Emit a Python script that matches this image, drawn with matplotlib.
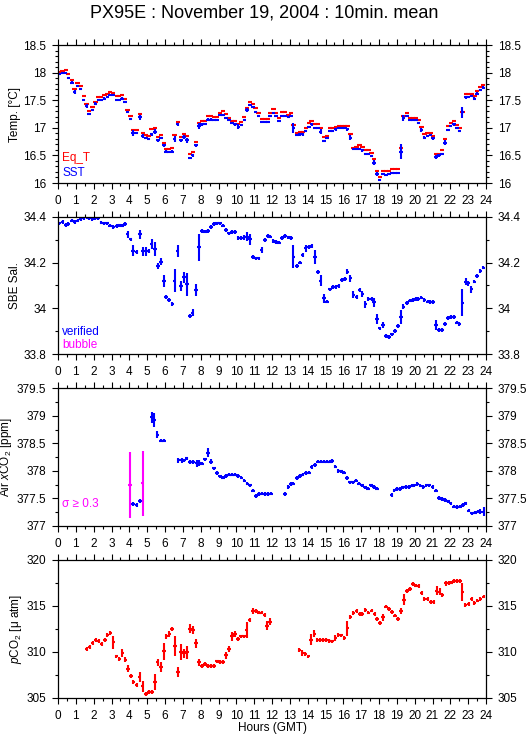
import numpy as np
import matplotlib
matplotlib.use('Agg')
import matplotlib.pyplot as plt
from matplotlib.ticker import MultipleLocator, FuncFormatter

plt.rcParams['font.family'] = ['Liberation Sans', 'DejaVu Sans']
plt.rcParams['mathtext.fontset'] = 'custom'
plt.rcParams['mathtext.rm'] = 'Liberation Sans'
plt.rcParams['mathtext.it'] = 'Liberation Sans:italic'

# 10 min means, hours GMT (panels 1 and 2)
hours = [0.07, 0.26, 0.43, 0.58, 0.77, 0.93, 1.1, 1.27, 1.44, 1.6,
         1.74, 1.93, 2.1, 2.26, 2.43, 2.6, 2.77, 2.93, 3.1, 3.29,
         3.44, 3.6, 3.76, 3.9, 4.07, 4.22, 4.41, 4.6, 4.75, 4.92,
         5.08, 5.25, 5.44, 5.6, 5.76, 5.93, 6.07, 6.24, 6.41, 6.54,
         6.71, 6.9, 7.08, 7.23, 7.4, 7.55, 7.74, 7.91, 8.07, 8.24,
         8.41, 8.57, 8.75, 8.9, 9.08, 9.25, 9.42, 9.59, 9.76, 9.93,
         10.11, 10.28, 10.45, 10.6, 10.77, 10.93, 11.08, 11.25, 11.42, 11.6, 11.76,
         11.89, 12.08, 12.23, 12.4, 12.55, 12.73, 12.92, 13.07, 13.2,
         13.39, 13.57, 13.72, 13.89, 14.08, 14.22, 14.41, 14.58, 14.73, 14.9,
         15.07, 15.24, 15.4, 15.57, 15.74, 15.91, 16.08, 16.23, 16.4, 16.57,
         16.74, 16.91, 17.07, 17.24, 17.41, 17.58, 17.73, 17.88, 18.04, 18.21,
         18.38, 18.55, 18.72, 18.9, 19.07, 19.22, 19.37, 19.56, 19.73, 19.9,
         20.06, 20.21, 20.38, 20.55, 20.72, 20.88, 21.03, 21.2, 21.37, 21.54,
         21.69, 21.86, 22.02, 22.19, 22.36, 22.51, 22.68, 22.86, 23.01, 23.18,
         23.35, 23.51, 23.68, 23.85]

sst = [17.97, 17.99, 17.99, 17.9, 17.82, 17.65, 17.76, 17.71, 17.51, 17.39,
       17.25, 17.32, 17.44, 17.5, 17.5, 17.53, 17.56, 17.6, 17.59, 17.51,
       17.51, 17.53, 17.47, 17.28, 17.16, 16.91, 16.91, 17.19, 16.85, 16.82,
       16.79, 16.88, 16.93, 16.77, 16.81, 16.68, 16.57, 16.56, 16.57, 16.8,
       17.06, 16.77, 16.83, 16.77, 16.46, 16.5, 16.68, 17.03, 17.06, 17.07,
       17.15, 17.15, 17.14, 17.14, 17.23, 17.23, 17.18, 17.14, 17.08, 17.06,
       17.02, 17.05, 17.14, 17.32, 17.41, 17.38, 17.29, 17.21, 17.11, 17.11, 17.11,
       17.21, 17.27, 17.21, 17.12, 17.22, 17.22, 17.19, 17.21, 17.0,
       16.87, 16.88, 16.88, 16.94, 17.02, 17.06, 17.0, 17.0, 16.93, 16.76,
       16.82, 16.94, 16.94, 16.97, 16.99, 16.99, 16.99, 16.97, 16.82, 16.61,
       16.62, 16.62, 16.59, 16.52, 16.52, 16.49, 16.37, 16.16, 16.05, 16.17,
       16.15, 16.16, 16.18, 16.18, 16.18, 16.57, 17.18, 17.21, 17.14, 17.14,
       17.14, 17.09, 16.96, 16.82, 16.85, 16.87, 16.81, 16.47, 16.5, 16.52,
       16.73, 16.96, 17.03, 17.06, 16.99, 16.94, 17.28, 17.55, 17.56, 17.57,
       17.53, 17.62, 17.68, 17.73]

sst_err = [.02, .02, .02, .02, .02, .04, .02, .02, .02, .035,
           .02, .02, .02, .02, .02, .02, .02, .02, .02, .02,
           .02, .02, .02, .02, .02, .05, .02, .04, .04, .02,
           .02, .02, .04, .02, .02, .02, .02, .02, .02, .05,
           .03, .02, .04, .05, .02, .02, .02, .06, .02, .02,
           .02, .02, .02, .02, .02, .02, .02, .02, .02, .02,
           .04, .02, .02, .04, .02, .02, .02, .02, .02, .02, .02,
           .02, .02, .02, .02, .02, .02, .02, .02, .09,
           .02, .02, .02, .02, .02, .02, .02, .02, .04, .02,
           .02, .02, .02, .02, .02, .02, .02, .02, .05, .02,
           .02, .02, .02, .02, .02, .02, .04, .04, .02, .02,
           .02, .02, .02, .02, .02, .13, .05, .02, .02, .02,
           .02, .02, .04, .03, .02, .02, .03, .04, .02, .02,
           .04, .02, .02, .02, .02, .02, .1, .02, .02, .02,
           .02, .02, .02, .02]

eq_t = [18.01, 18.03, 18.05, 17.97, 17.87, 17.71, 17.81, 17.75, 17.57, 17.43,
        17.3, 17.37, 17.47, 17.55, 17.56, 17.6, 17.62, 17.65, 17.63, 17.58,
        17.58, 17.59, 17.52, 17.33, 17.21, 16.96, 16.96, 17.25, 16.9, 16.87,
        16.85, 16.97, 16.99, 16.83, 16.87, 16.72, 16.61, 16.61, 16.63, 16.87,
        17.11, 16.84, 16.89, 16.85, 16.52, 16.56, 16.74, 17.09, 17.12, 17.12,
        17.21, 17.21, 17.2, 17.2, 17.27, 17.3, 17.25, 17.17, 17.12, 17.12,
        17.06, 17.1, 17.2, 17.36, 17.46, 17.44, 17.35, 17.26, 17.16, 17.16, 17.16,
        17.27, 17.34, 17.26, 17.17, 17.28, 17.28, 17.23, 17.27, 17.05,
        16.91, 16.93, 16.93, 16.99, 17.09, 17.12, 17.06, 17.07, 16.99, 16.83,
        16.86, 16.99, 17.0, 17.02, 17.03, 17.03, 17.03, 17.03, 16.88, 16.64,
        16.65, 16.68, 16.65, 16.59, 16.59, 16.54, 16.43, 16.22, 16.1, 16.22,
        16.21, 16.22, 16.25, 16.25, 16.25, 16.63, 17.22, 17.27, 17.17, 17.17,
        17.17, 17.14, 17.02, 16.88, 16.91, 16.91, 16.86, 16.53, 16.53, 16.59,
        16.79, 17.03, 17.09, 17.12, 17.05, 17.0, 17.29, 17.61, 17.61, 17.61,
        17.58, 17.67, 17.74, 17.78]

sal = [34.371, 34.378, 34.364, 34.368, 34.383, 34.378, 34.383, 34.39, 34.393, 34.397,
       34.393, 34.39, 34.393, 34.393, 34.374, 34.371, 34.371, 34.361, 34.356, 34.359,
       34.362, 34.361, 34.367, 34.324, 34.301, 34.252, 34.247, 34.324, 34.25, 34.25,
       34.25, 34.281, 34.258, 34.185, 34.204, 34.12, 34.051, 34.037, 34.019, 34.121,
       34.25, 34.098, 34.136, 34.105, 33.967, 33.982, 34.08, 34.266, 34.338, 34.335,
       34.338, 34.356, 34.367, 34.371, 34.371, 34.361, 34.342, 34.327, 34.332, 34.332,
       34.306, 34.306, 34.31, 34.313, 34.301, 34.223, 34.218, 34.218, 34.255, 34.298, 34.316,
       34.313, 34.294, 34.291, 34.287, 34.306, 34.317, 34.31, 34.306, 34.226,
       34.185, 34.2, 34.233, 34.262, 34.269, 34.272, 34.223, 34.16, 34.121, 34.044,
       34.03, 34.083, 34.094, 34.092, 34.098, 34.124, 34.127, 34.16, 34.131, 34.059,
       34.051, 34.08, 34.063, 34.018, 34.04, 34.04, 34.027, 33.954, 33.913, 33.928,
       33.88, 33.874, 33.887, 33.902, 33.923, 33.961, 34.008, 34.025, 34.034, 34.037,
       34.04, 34.04, 34.047, 34.037, 34.03, 34.027, 34.027, 33.928, 33.906, 33.906,
       33.932, 33.957, 33.964, 33.964, 33.938, 33.932, 34.025, 34.117, 34.109, 34.083,
       34.117, 34.141, 34.163, 34.178]

sal_err = [.008, .008, .008, .008, .008, .008, .008, .008, .008, .008,
           .008, .008, .008, .008, .008, .008, .008, .008, .008, .008,
           .008, .008, .008, .015, .008, .025, .008, .02, .02, .02,
           .01, .02, .03, .015, .015, .025, .008, .008, .008, .05,
           .025, .02, .025, .05, .008, .015, .025, .06, .008, .008,
           .008, .008, .008, .008, .008, .008, .01, .008, .008, .008,
           .008, .008, .01, .02, .025, .008, .008, .008, .015, .01, .008,
           .008, .008, .008, .008, .008, .008, .008, .008, .05,
           .008, .008, .01, .015, .008, .008, .03, .008, .025, .02,
           .008, .008, .008, .008, .008, .008, .008, .01, .015, .015,
           .008, .008, .015, .015, .008, .008, .02, .02, .008, .015,
           .008, .008, .008, .008, .008, .03, .01, .008, .008, .008,
           .008, .008, .008, .008, .008, .008, .008, .02, .008, .008,
           .008, .008, .008, .008, .008, .01, .06, .015, .01, .015,
           .008, .008, .008, .008]

# Air xCO2
hours_x = [4.22, 4.41, 4.6, 5.25, 5.4, 5.57, 5.76, 5.93,
           6.75, 6.93, 7.06, 7.21, 7.4, 7.58, 7.77, 7.92, 8.08, 8.23,
           8.4, 8.57, 8.74, 8.9, 9.07, 9.24, 9.41, 9.58, 9.76, 9.93,
           10.1, 10.28, 10.45, 10.62, 10.77, 10.92, 11.09, 11.26, 11.42, 11.6,
           11.77, 11.93,
           12.73, 12.92, 13.05, 13.2, 13.39, 13.57, 13.72, 13.89, 14.08, 14.22,
           14.41, 14.56, 14.73, 14.9, 15.07, 15.24, 15.38, 15.55, 15.72, 15.87,
           16.04, 16.2, 16.38, 16.55, 16.71, 16.88, 17.05, 17.22, 17.39, 17.56,
           17.72, 17.89,
           18.71, 18.86, 19.0, 19.18, 19.35, 19.5, 19.67, 19.84, 19.98, 20.15,
           20.32, 20.49, 20.66, 20.83, 21.0, 21.2, 21.37, 21.54, 21.71, 21.88,
           22.02, 22.19, 22.36, 22.53, 22.7, 22.86, 23.03, 23.2, 23.37, 23.54,
           23.69, 23.86]
xco2 = [377.4, 377.38, 377.45, 378.97, 378.92, 378.66, 378.55, 378.55,
        378.19, 378.19, 378.19, 378.23, 378.16, 378.16, 378.14, 378.14, 378.13, 378.21,
        378.33, 378.17, 378.05, 377.96, 377.9, 377.88, 377.91, 377.93, 377.93, 377.93,
        377.91, 377.88, 377.82, 377.77, 377.74, 377.64, 377.54, 377.58, 377.59, 377.58,
        377.58, 377.59,
        377.58, 377.71, 377.76, 377.77, 377.87, 377.91, 377.93, 377.96, 377.97, 378.07,
        378.11, 378.17, 378.17, 378.17, 378.17, 378.17, 378.18, 378.08, 378.0, 377.99,
        377.97, 377.87, 377.79, 377.79, 377.82, 377.77, 377.74, 377.7, 377.68, 377.74,
        377.71, 377.68,
        377.56, 377.65, 377.67, 377.67, 377.7, 377.71, 377.71, 377.73, 377.74, 377.76,
        377.73, 377.71, 377.74, 377.74, 377.71, 377.64, 377.51, 377.49, 377.47, 377.45,
        377.41, 377.35, 377.35, 377.35, 377.38, 377.41, 377.28, 377.23, 377.24, 377.26,
        377.26, 377.26]
xco2_err = [.03, .03, .04, .1, .13, .06, .03, .03,
            .05, .04, .03, .03, .03, .03, .06, .05, .03, .03,
            .08, .05, .03, .03, .03, .03, .03, .03, .03, .03,
            .03, .03, .03, .03, .03, .03, .04, .03, .03, .03,
            .03, .03,
            .04, .03, .03, .03, .03, .03, .03, .03, .03, .03,
            .03, .03, .03, .03, .03, .03, .03, .03, .03, .03,
            .03, .03, .03, .03, .03, .03, .03, .03, .03, .03,
            .03, .03,
            .04, .03, .03, .03, .03, .03, .03, .03, .03, .03,
            .03, .03, .03, .03, .03, .03, .03, .03, .03, .03,
            .03, .03, .04, .03, .03, .03, .03, .03, .03, .03,
            .05, .08]
# xCO2 with sigma >= 0.3
hours_bub = [4.04, 4.75]
xco2_bub = [377.74, 377.78]
bub_err = [0.6, 0.59]

# pCO2
hours_p = [1.6, 1.77, 1.94, 2.11, 2.28, 2.45, 2.62, 2.77, 2.94, 3.1,
           3.27, 3.44, 3.61, 3.78, 3.91, 4.08, 4.23, 4.41, 4.58, 4.75,
           4.92, 5.09, 5.26, 5.43, 5.59, 5.76, 5.93, 6.08, 6.25, 6.4,
           6.56, 6.73, 6.9, 7.06, 7.23, 7.4, 7.57, 7.74, 7.91, 8.08,
           8.24, 8.41, 8.58, 8.74, 8.92, 9.08, 9.25, 9.42, 9.59, 9.76,
           9.93, 10.1, 10.27, 10.42, 10.58, 10.75, 10.92, 11.09, 11.26, 11.42,
           11.59, 11.72, 11.89,
           13.53, 13.7, 13.87, 14.04, 14.2, 14.38, 14.54, 14.71, 14.88, 15.05,
           15.22, 15.38, 15.55, 15.72, 15.89, 16.06, 16.23, 16.4, 16.57, 16.74,
           16.91, 17.07, 17.24, 17.41, 17.58, 17.75, 17.88, 18.05, 18.22, 18.39,
           18.56, 18.73, 18.9, 19.07, 19.23, 19.4, 19.57, 19.73, 19.9, 20.07,
           20.22, 20.39, 20.55, 20.72, 20.89, 21.06, 21.23, 21.4, 21.56, 21.73,
           21.9, 22.05, 22.22, 22.39, 22.55, 22.68, 22.85, 23.02, 23.19, 23.35,
           23.52, 23.69, 23.86]
pco2 = [310.31, 310.53, 310.96, 311.33, 311.22, 310.89, 311.33, 311.87, 312.05, 311.07,
        309.52, 309.27, 309.88, 309.16, 308.18, 307.42, 306.74, 306.45, 307.28, 306.27,
        305.47, 305.65, 305.65, 306.74, 308.87, 308.36, 310.06, 311.69, 311.94, 312.48,
        310.68, 307.82, 309.99, 309.88, 309.99, 312.52, 312.41, 310.96, 308.87, 308.51,
        308.69, 308.51, 308.51, 308.51, 308.98, 308.91, 308.91, 309.63, 310.35, 311.69,
        311.94, 311.4, 311.69, 311.69, 312.41, 313.49, 314.47, 314.47, 314.29, 314.29,
        314.04, 312.88, 313.31,
        310.24, 309.88, 309.81, 309.52, 311.33, 311.98, 311.33, 311.33, 311.33, 311.33,
        311.22, 311.15, 311.51, 311.87, 311.8, 311.51, 312.59, 313.78, 314.22, 314.47,
        314.15, 314.15, 314.58, 314.29, 314.51, 314.15, 313.6, 313.13, 313.78, 314.94,
        314.65, 314.33, 313.96, 313.6, 314.47, 315.66, 316.64, 316.82, 317.36, 317.22,
        317.18, 316.39, 315.74, 315.74, 315.41, 315.41, 316.68, 316.57, 316.21, 317.47,
        317.47, 317.54, 317.72, 317.72, 317.72, 316.49, 315.12, 315.23, 315.77, 315.3,
        315.59, 315.74, 316.02]
pco2_err = [.2, .2, .2, .2, .2, .2, .2, .2, .2, .7,
            .2, .2, .4, .3, .4, .2, .2, .2, .5, .6,
            .2, .2, .2, .9, .4, .5, .9, .3, .3, .2,
            1.1, .5, .9, .5, .7, .5, .4, .5, .4, .2,
            .2, .2, .2, .2, .2, .2, .2, .4, .3, .5,
            .3, .2, .2, .2, .9, .2, .3, .2, .2, .2,
            .2, .5, .4,
            .2, .3, .2, .2, .6, .4, .2, .2, .2, .2,
            .2, .2, .3, .2, .2, .2, .8, .2, .2, .2,
            .2, .2, .2, .2, .2, .2, .2, .2, .4, .2,
            .2, .2, .2, .2, .3, .6, .2, .2, .2, .2,
            .2, .2, .2, .2, .2, .2, .5, .4, .2, .3,
            .2, .2, .2, .2, .2, 1.0, .2, .2, .2, .2,
            .2, .2, .2]

W, H = 529.0, 739.0
fig = plt.figure(figsize=(W / 100, H / 100), dpi=100)


def panel(top, bottom, ylim, major, minor, ylabel):
    ax = fig.add_axes([58 / W, 1 - bottom / H, 428 / W, (bottom - top) / H])
    ax.set_xlim(0, 24)
    ax.set_ylim(*ylim)
    ax.xaxis.set_major_locator(MultipleLocator(1))
    ax.xaxis.set_minor_locator(MultipleLocator(0.5))
    ax.yaxis.set_major_locator(MultipleLocator(major))
    ax.yaxis.set_minor_locator(MultipleLocator(minor))
    ax.yaxis.set_major_formatter(FuncFormatter(lambda v, p: '%g' % round(v, 3)))
    ax.tick_params(which='both', direction='out', top=True, right=True,
                   labelright=True, labelsize=8.5, width=0.8, pad=4.5)
    ax.tick_params(which='major', length=4)
    ax.tick_params(which='minor', length=2.3)
    for s in ax.spines.values():
        s.set_linewidth(0.9)
    ax.set_ylabel(ylabel, fontsize=8.5, labelpad=1.5)
    return ax


kw = dict(fmt='none', capsize=0, elinewidth=1.5)

ax1 = panel(45, 183, (16, 18.5), 0.5, 0.1, 'Temp. [°C]')
ax1.errorbar(hours, eq_t, xerr=0.12, ecolor='#ff0000', **kw)
ax1.errorbar(hours, sst, yerr=sst_err, xerr=0.1, ecolor='#0000ff', **kw)
ax1.text(0.01, 0.18, 'Eq_T', color='#ff0000', fontsize=8.5, transform=ax1.transAxes, va='center')
ax1.text(0.01, 0.07, 'SST', color='#0000ff', fontsize=8.5, transform=ax1.transAxes, va='center')

ax2 = panel(216.7, 354.3, (33.8, 34.4), 0.2, 0.1, 'SBE Sal.')
ax2.errorbar(hours, sal, yerr=sal_err, xerr=0.1, ecolor='#0000ff', **kw)
ax2.text(0.01, 0.16, 'verified', color='#0000ff', fontsize=8.5, transform=ax2.transAxes, va='center')
ax2.text(0.01, 0.067, 'bubble', color='#ff00ff', fontsize=8.5, transform=ax2.transAxes, va='center')

ax3 = panel(388.3, 526, (377, 379.5), 0.5, 0.25, 'Air $x$CO$_2$ [ppm]')
ax3.errorbar(hours_x, xco2, yerr=xco2_err, xerr=0.1, ecolor='#0000ff', **kw)
ax3.errorbar(hours_bub, xco2_bub, yerr=bub_err, xerr=0.1, ecolor='#ff00ff', **kw)
ax3.text(0.01, 0.16, 'σ ≥ 0.3', color='#ff00ff', fontsize=8.5, transform=ax3.transAxes, va='center')

ax4 = panel(560, 698, (305, 320), 5, 2.5, '$p$CO$_2$ [μ atm]')
ax4.errorbar(hours_p, pco2, yerr=pco2_err, xerr=0.1, ecolor='#ff0000', **kw)

fig.text(0.5, 1 - 13 / H, 'PX95E : November 19, 2004 : 10min. mean', ha='center', va='center', fontsize=13)
fig.text(272 / W, 1 - 728 / H, 'Hours (GMT)', ha='center', va='center', fontsize=8.5)

fig.savefig('out.png', dpi=100)
